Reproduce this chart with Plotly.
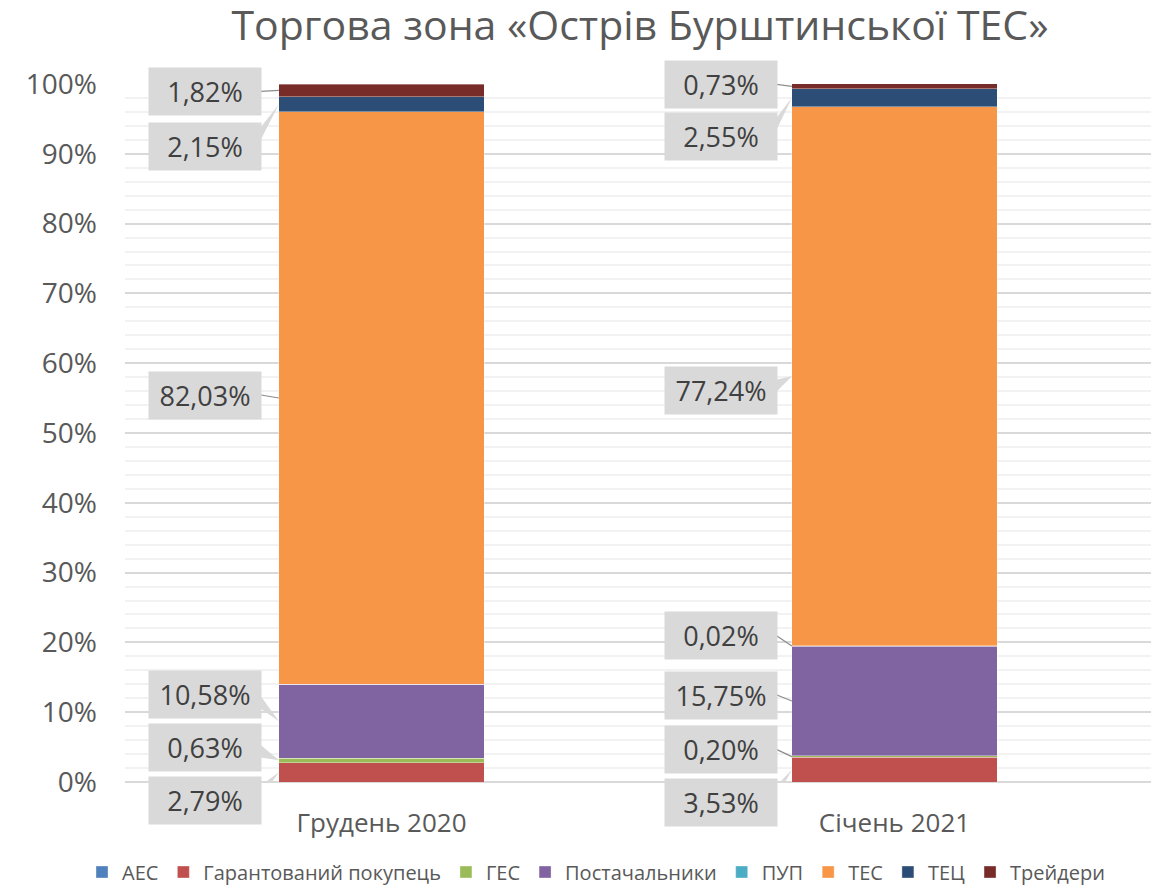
import plotly.graph_objects as go

categories = ["Грудень 2020", "Січень 2021"]
series_names = ["АЕС", "Гарантований покупець", "ГЕС", "Постачальники", "ПУП", "ТЕС", "ТЕЦ", "Трейдери"]
aes = [0.0, 0.0]
garant = [2.79, 3.53]
ges = [0.63, 0.20]
postach = [10.58, 15.75]
pup = [0.0, 0.02]
tes = [82.03, 77.24]
tec = [2.15, 2.55]
traders = [1.82, 0.73]
y_ticks = list(range(0, 101, 10))
y_tick_labels = [f"{t}%" for t in y_ticks]
title_text = "Торгова зона «Острів Бурштинської ТЕС»"

series_values = [aes, garant, ges, postach, pup, tes, tec, traders]
colors = ["#4f81bd", "#c0504d", "#9bbb59", "#8064a2", "#4bacc6", "#f79646", "#2c4d75", "#772c2a"]

# label box offsets (pixels) relative to the segment midpoint on bar's left edge
label_offsets = {
    0: {1: 28, 2: -13, 3: -27, 5: -3, 6: 42, 7: 1},
    1: {1: 33, 2: -7, 3: -6, 4: -10, 5: 14, 6: 39, 7: -2},
}
ax_off = {0: -74, 1: -71}
bar_width = 0.4
FONT = "Open Sans"

fig = go.Figure()
for name, vals, col in zip(series_names, series_values, colors):
    fig.add_trace(go.Bar(
        x=categories, y=vals, name=name, width=bar_width,
        marker=dict(color=col, line=dict(color="rgba(255,255,255,0.6)", width=0.6)),
    ))

annotations = []
shapes = []
for ci, cat in enumerate(categories):
    cum = 0.0
    for si, vals in enumerate(series_values):
        v = vals[ci]
        mid = cum + v / 2
        cum += v
        if si not in label_offsets[ci]:
            continue
        ay = label_offsets[ci][si]
        ax = ax_off[ci]
        txt = f"{v:.2f}%".replace(".", ",")
        annotations.append(dict(
            x=ci - bar_width / 2, y=mid, xref="x", yref="y",
            text=txt, showarrow=True, ax=ax, ay=ay,
            arrowcolor="rgba(0,0,0,0)", arrowwidth=0.1, arrowhead=0,
            bgcolor="#d9d9d9", width=108, height=43, borderpad=2,
            font=dict(family=FONT, size=27, color="#404040"),
        ))
        bx = ax + 48
        if abs(ay) < 12:
            path = f"M0,0 L{ax + 56},{-ay}"
            shapes.append(dict(type="path", path=path, xref="x", yref="y",
                               xsizemode="pixel", ysizemode="pixel",
                               xanchor=ci - bar_width / 2, yanchor=mid,
                               line=dict(color="#8c8c8c", width=1.2), layer="above"))
        else:
            path = f"M0,0 L{bx},{-ay - 9} L{bx},{-ay + 9} Z"
            shapes.append(dict(type="path", path=path, xref="x", yref="y",
                               xsizemode="pixel", ysizemode="pixel",
                               xanchor=ci - bar_width / 2, yanchor=mid,
                               fillcolor="#d9d9d9", line=dict(width=0), layer="above"))

fig.update_layout(
    barmode="stack",
    width=1163, height=886,
    margin=dict(l=125, r=12, t=84, b=104, autoexpand=False),
    paper_bgcolor="white", plot_bgcolor="white",
    font=dict(family=FONT, color="#595959"),
    title=dict(text=title_text, x=640 / 1163, xanchor="center", xref="container",
               y=1 - 26 / 886, yanchor="middle", yref="container",
               font=dict(family=FONT, size=41, color="#595959")),
    xaxis=dict(range=[-0.5, 1.5], showgrid=False, showline=False, zeroline=False,
               tickfont=dict(family=FONT, size=26, color="#595959"),
               ticklabelstandoff=23),
    yaxis=dict(range=[0, 100], tickvals=y_ticks, ticktext=y_tick_labels,
               showgrid=True, gridcolor="#d9d9d9", gridwidth=1.5,
               zeroline=True, zerolinecolor="#d9d9d9", zerolinewidth=1.5,
               tickfont=dict(family=FONT, size=28, color="#595959"),
               ticklabelstandoff=27,
               minor=dict(dtick=2, showgrid=True, gridcolor="#f2f2f2", gridwidth=1.5)),
    legend=dict(orientation="h", xref="container", x=596 / 1163, xanchor="center",
                yref="container", y=1 - 872 / 886, yanchor="middle",
                traceorder="normal", font=dict(family=FONT, size=20, color="#595959"),
                itemwidth=30),
    annotations=annotations,
    shapes=shapes,
    bargap=0.6,
)

fig.write_html("out.html", config={"displayModeBar": False},
               post_script="document.body.style.margin='0';")
